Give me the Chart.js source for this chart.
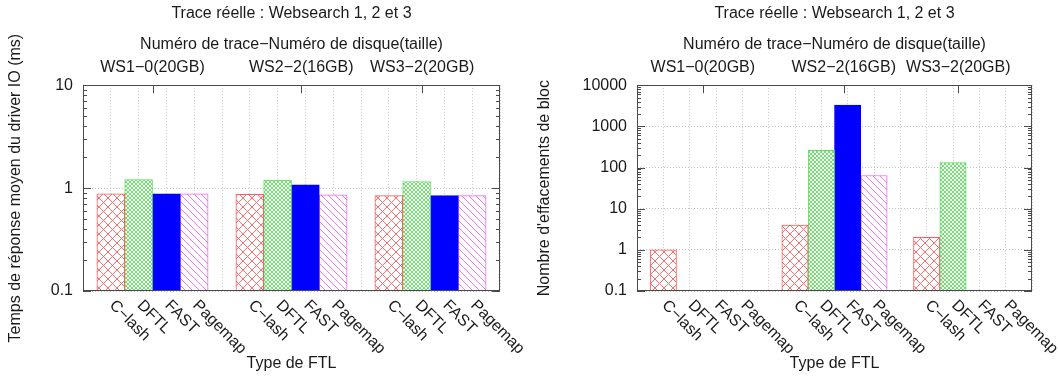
<!DOCTYPE html>
<html>
<head>
<meta charset="utf-8">
<script src="https://cdn.jsdelivr.net/npm/chart.js@4/dist/chart.umd.min.js"></script>
<style>
  body { margin: 0; background: #fff; }
  #wrap { display: flex; width: 1058px; height: 377px; }
  canvas { display: block; }
</style>
</head>
<body>
<div id="wrap">
  <canvas id="leftChart" width="529" height="377"></canvas>
  <canvas id="rightChart" width="529" height="377"></canvas>
</div>
<script>
"use strict";

/* ============================================================
   DATA
============================================================ */
const chartTitle = "Trace réelle : Websearch 1, 2 et 3";
const groupTitle = "Numéro de trace−Numéro de disque(taille)";
const groupNames = ["WS1−0(20GB)", "WS2−2(16GB)", "WS3−2(20GB)"];
const groupTickPos = [1.5, 6.85, 11.2];
const groupStart = [0, 5, 10];
const ftlNames = ["C−lash", "DFTL", "FAST", "Pagemap"];
const xTitle = "Type de FTL";

// left chart : mean IO driver response time (ms)
const respTitle = "Temps de réponse moyen du driver IO (ms)";
const respTicks = [0.1, 1, 10];
const respClash = [0.88, 0.87, 0.845];
const respDftl = [1.21, 1.195, 1.16];
const respFast = [0.88, 1.075, 0.845];
const respPagemap = [0.88, 0.86, 0.845];

// right chart : number of block erasures
const eraseTitle = "Nombre d'effacements de bloc";
const eraseTicks = [0.1, 1, 10, 100, 1000, 10000];
const eraseClash = [1, 4, 2];
const eraseDftl = [null, 260, 132];
const eraseFast = [null, 3300, null];
const erasePagemap = [null, 64, null];

/* ============================================================
   STYLE HELPERS
============================================================ */
const FONT = '"Liberation Sans", Arial, sans-serif';
Chart.defaults.font.family = FONT;
Chart.defaults.font.size = 16;
Chart.defaults.color = '#1a1a1a';

// white tile with one or two diagonal lines, repeated as a fill
function hatch(size, color, dirs) {
  const c = document.createElement('canvas');
  c.width = c.height = size;
  const g = c.getContext('2d');
  g.fillStyle = '#ffffff';
  g.fillRect(0, 0, size, size);
  g.strokeStyle = color;
  g.lineWidth = 1;
  g.beginPath();
  if (dirs.includes('\\')) { g.moveTo(-1, -1); g.lineTo(size + 1, size + 1); }
  if (dirs.includes('/')) { g.moveTo(-1, size + 1); g.lineTo(size + 1, -1); }
  g.stroke();
  return g.createPattern(c, 'repeat');
}

function makeSeriesStyle() {
  return [
    { fill: hatch(9, 'rgb(255,110,110)', '\\/'), border: '#ff5a5a' },
    { fill: hatch(4, 'rgb(110,225,110)', '\\/'), border: '#5ce05c' },
    { fill: '#0000ff', border: '#0000ff' },
    { fill: hatch(7, 'rgb(240,120,240)', '\\'), border: '#ee66ee' }
  ];
}

/* ============================================================
   FRAME, TICK MARKS AND EXTRA LABELS
============================================================ */
const framePlugin = {
  id: 'frame',
  afterDatasetsDraw(chart) {
    const { ctx, chartArea: a, scales } = chart;
    const line = (x1, y1, x2, y2) => { ctx.beginPath(); ctx.moveTo(x1, y1); ctx.lineTo(x2, y2); ctx.stroke(); };
    ctx.save();
    ctx.strokeStyle = '#4a4a4a';
    ctx.lineWidth = 1;
    ctx.strokeRect(Math.round(a.left) + 0.5, Math.round(a.top) + 0.5,
                   Math.round(a.width) - 1, Math.round(a.height) - 1);

    // log minor/major ticks on both sides
    const y = scales.y;
    const lo = Math.floor(Math.log10(y.min)), hi = Math.ceil(Math.log10(y.max));
    for (let e = lo; e <= hi; e++) {
      for (let m = 1; m < 10; m++) {
        const v = m * Math.pow(10, e);
        if (v < y.min * 0.999 || v > y.max * 1.001) continue;
        const py = Math.round(y.getPixelForValue(v)) + 0.5;
        const len = m === 1 ? 8 : 4;
        line(a.left, py, a.left + len, py);
        line(a.right, py, a.right - len, py);
      }
    }

    // group ticks on the top border
    groupTickPos.forEach(v => {
      const px = Math.round(scales.x.getPixelForValue(v)) + 0.5;
      line(px, a.top, px, a.top + 8);
    });

    ctx.fillStyle = '#1a1a1a';
    ctx.font = '16px ' + FONT;

    // group title and group names above the plot
    ctx.textAlign = 'center';
    ctx.textBaseline = 'middle';
    ctx.fillText(groupTitle, (a.left + a.right) / 2, 45);
    groupNames.forEach((name, i) => {
      ctx.fillText(name, scales.x.getPixelForValue(groupTickPos[i]), 68);
    });

    // rotated FTL names below the plot
    ctx.textAlign = 'left';
    groupStart.forEach(g => {
      ftlNames.forEach((name, i) => {
        const px = scales.x.getPixelForValue(g + i);
        ctx.save();
        ctx.translate(px + 1, a.bottom + 12);
        ctx.rotate(Math.PI / 4);
        ctx.fillText(name, 0, 0);
        ctx.restore();
      });
    });
    ctx.restore();
  }
};

/* ============================================================
   CHART BUILDER
============================================================ */
function buildChart(canvasId, series, yMax, yTicks, yTitle, yWidth, rightPad) {
  const style = makeSeriesStyle();
  const datasets = series.map((vals, s) => ({
    label: ftlNames[s],
    data: vals.map((v, g) => ({ x: groupStart[g] + s, y: v })),
    backgroundColor: style[s].fill,
    borderColor: style[s].border,
    hoverBackgroundColor: style[s].fill,
    hoverBorderColor: style[s].border
  }));

  return new Chart(document.getElementById(canvasId), {
    type: 'bar',
    data: { datasets },
    plugins: [framePlugin],
    options: {
      responsive: false,
      animation: false,
      devicePixelRatio: 1,
      events: [],
      layout: { padding: { left: 0, right: rightPad, top: 0, bottom: 0 } },
      datasets: {
        bar: {
          grouped: false,
          barPercentage: 1,
          categoryPercentage: 1,
          borderWidth: 1,
          borderSkipped: false
        }
      },
      plugins: {
        legend: { display: false },
        tooltip: { enabled: false },
        colors: { enabled: false },
        title: {
          display: true,
          text: chartTitle,
          fullSize: false,
          font: { size: 16, weight: 'normal' },
          padding: { top: 4, bottom: 62 }
        }
      },
      scales: {
        x: {
          type: 'linear',
          position: 'bottom',
          offset: false,
          min: -1,
          max: 14,
          ticks: { stepSize: 1, display: false },
          grid: { color: '#c4c4c4', lineWidth: 1, drawTicks: false, offset: false },
          border: { display: false, dash: [1, 2] },
          title: { display: true, text: xTitle, padding: { top: 0, bottom: 4 } },
          afterFit(scale) { scale.height = 86; }
        },
        y: {
          type: 'logarithmic',
          min: 0.1,
          max: yMax,
          grid: { color: '#c4c4c4', lineWidth: 1, drawTicks: false },
          border: { display: false, dash: [1, 2] },
          ticks: {
            padding: 10,
            callback: v => String(+Number(v).toPrecision(3))
          },
          afterBuildTicks(scale) { scale.ticks = yTicks.map(v => ({ value: v })); },
          title: { display: true, text: yTitle, padding: { top: 6, bottom: 0 } },
          afterFit(scale) { scale.width = yWidth; }
        }
      }
    }
  });
}

/* ============================================================
   INITIALIZATION
============================================================ */
buildChart('leftChart', [respClash, respDftl, respFast, respPagemap], 10, respTicks, respTitle, 83, 29);
buildChart('rightChart', [eraseClash, eraseDftl, eraseFast, erasePagemap], 10000, eraseTicks, eraseTitle, 108, 26);
</script>
</body>
</html>
